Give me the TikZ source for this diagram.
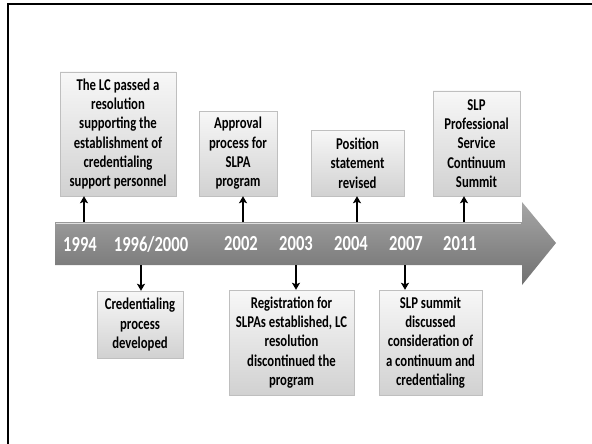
\documentclass[tikz,border=0pt]{standalone}
\usepackage{fontspec}
\setmainfont{Carlito}[FakeStretch=0.77]
\usetikzlibrary{arrows.meta,shadows}
\newcommand{\milestone}{\node[milestone]}
\newcommand{\yearmark}{\node[yearmark]}
\tikzset{
  milestone/.style={draw=black!25, top color=black!3, bottom color=black!18,
    drop shadow={opacity=0.3, shadow xshift=1.2pt, shadow yshift=-1.2pt},
    align=center, inner sep=0pt, font=\bfseries\fontsize{16.5}{19.3}\selectfont},
  yearmark/.style={text=white, inner sep=0pt, font=\bfseries\fontsize{21.5}{24}\selectfont},
  link/.style={line width=1.7pt, -{Stealth[length=7pt,width=8pt,inset=1.5pt]}}
}
\begin{document}
\begin{tikzpicture}[x=1pt,y=-1pt]
\useasboundingbox (0,0) rectangle (592,444);
\draw[line width=2.5pt] (8,444) -- (8,4) -- (592,4);
% timeline arrow
\shade[top color=black!35, bottom color=black!56]
  (55,222) -- (522,222) -- (522,202) -- (556,243) -- (522,285) -- (522,265) -- (55,265) -- cycle;
\draw[white!75!gray, line width=1pt] (56,223) -- (521,223);
% years
\yearmark (y94) at (80,244) {1994};
\yearmark (y96) at (151,244) {1996/2000};
\yearmark (y02) at (241,244) {2002};
\yearmark (y03) at (296,244) {2003};
\yearmark (y04) at (351,244) {2004};
\yearmark (y07) at (406,244) {2007};
\yearmark (y11) at (460,244) {2011};
% points on the arrow edges
\coordinate (t94) at (84,222);
\coordinate (t02) at (243,222);
\coordinate (t04) at (357,222);
\coordinate (t11) at (464,222);
\coordinate (b96) at (141,265);
\coordinate (b03) at (296,265);
\coordinate (b07) at (405,265);
% boxes above
\milestone[minimum width=116pt, minimum height=124pt] (lc) at (118,134)
  {The LC passed a\\resolution\\supporting the\\establishment of\\credentialing\\support personnel};
\milestone[minimum width=78pt, minimum height=85pt] (appr) at (238,153.5)
  {Approval\\process for\\SLPA\\program};
\milestone[minimum width=93pt, minimum height=66pt] (pos) at (357.5,163)
  {Position\\statement\\revised};
\milestone[minimum width=87pt, minimum height=105pt] (psc) at (476.5,143.5)
  {SLP\\Professional\\Service\\Continuum\\Summit};
% boxes below
\milestone[minimum width=86pt, minimum height=67pt] (cred) at (140,324.5)
  {Credentialing\\process\\developed};
\milestone[minimum width=125pt, minimum height=105pt] (reg) at (291.5,342.5)
  {Registration for\\SLPAs established, LC\\resolution\\discontinued the\\program};
\milestone[minimum width=103pt, minimum height=105pt] (sum) at (430.5,342.5)
  {SLP summit\\discussed\\consideration of\\a continuum and\\credentialing};
% links
\draw[link] (t94) -- (t94 |- lc.south);
\draw[link] (t02) -- (t02 |- appr.south);
\draw[link] (t04) -- (t04 |- pos.south);
\draw[link] (t11) -- (t11 |- psc.south);
\draw[link] (b96) -- (b96 |- cred.north);
\draw[link] (b03) -- (b03 |- reg.north);
\draw[link] (b07) -- (b07 |- sum.north);
\end{tikzpicture}
\end{document}
